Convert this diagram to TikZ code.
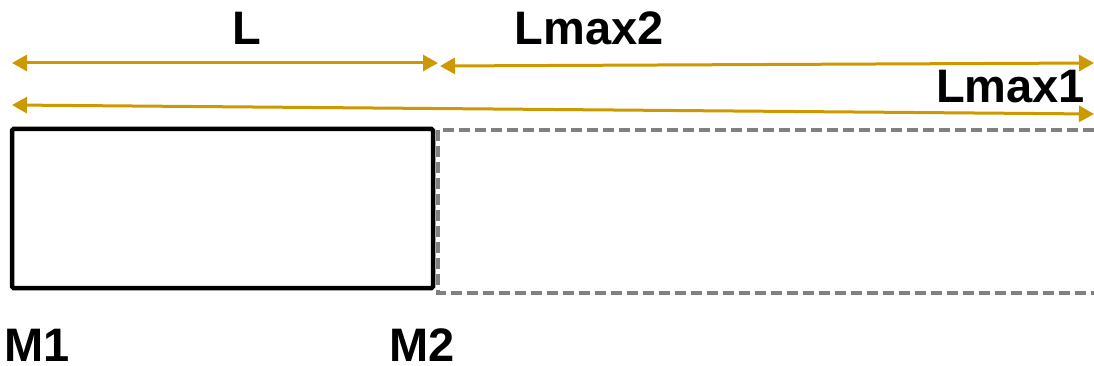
\documentclass[tikz,border=0pt]{standalone}
\usepackage{fontspec}
\setmainfont{Liberation Sans}
\usetikzlibrary{arrows.meta}
\definecolor{gold}{RGB}{204,153,0}
\definecolor{dashgray}{RGB}{128,128,128}
\tikzset{
  dimarrow/.style={draw=gold, line width=3pt, {Triangle[length=15pt,width=16pt]}-{Triangle[length=15pt,width=16pt]}},
  lbl/.style={font=\fontsize{47}{52}\selectfont\bfseries, inner sep=0pt, text=black},
  solidbox/.style={draw=black, line width=4.5pt, rounded corners=1.5pt},
  ghost/.style={draw=dashgray, line width=4pt, dash pattern=on 11pt off 5pt}
}
\begin{document}
\begin{tikzpicture}[x=1pt,y=-1pt]
\useasboundingbox (0,0) rectangle (1094,366);
% boxes
\draw[ghost] (1094,130) -- (438,130) -- (438,293) -- (1094,293);
\draw[solidbox] (12,129) rectangle (433,288);
% dimension endpoints
\coordinate (la) at (12,63);
\coordinate (lb) at (438,63);
\coordinate (m2a) at (440,66);
\coordinate (m2b) at (1094,63);
\coordinate (m1a) at (12,105);
\coordinate (m1b) at (1094,114);
\draw[dimarrow] (la) -- (lb);
\draw[dimarrow] (m2a) -- (m2b);
\draw[dimarrow] (m1a) -- (m1b);
% labels
\node[lbl, anchor=base] (tL) at (247,45) {L};
\node[lbl, anchor=base] (tLmax2) at (589,45) {Lmax2};
\node[lbl, anchor=base west] (tLmax1) at (936,103) {Lmax1};
\node[lbl, anchor=base west] (tM1) at (4,361) {M1};
\node[lbl, anchor=base west] (tM2) at (389,361) {M2};
\end{tikzpicture}
\end{document}
